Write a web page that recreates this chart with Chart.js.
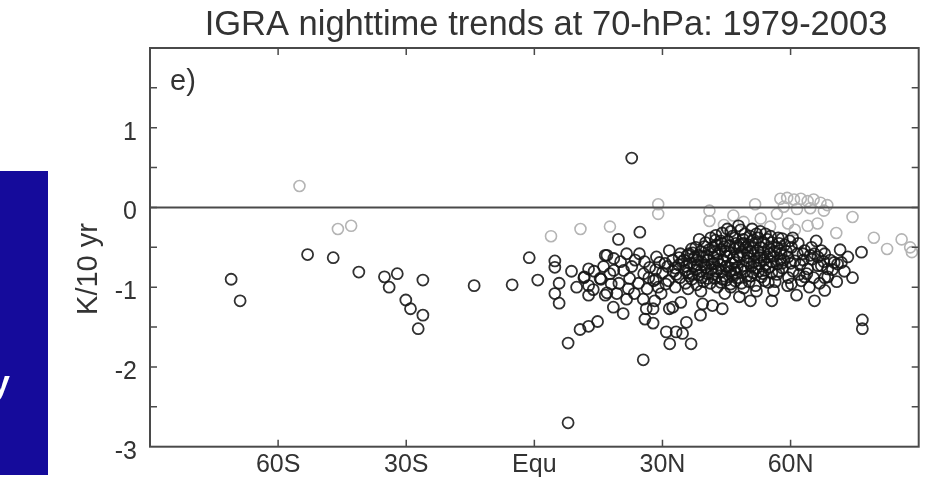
<!DOCTYPE html>
<html>
<head>
<meta charset="utf-8">
<script src="https://cdn.jsdelivr.net/npm/chart.js@4.4.1/dist/chart.umd.min.js"></script>
<style>
  html, body { margin: 0; padding: 0; background: #fff; }
  #wrap { position: relative; width: 926px; height: 479px; }
</style>
</head>
<body>
<div id="wrap"><canvas id="trendChart" width="926" height="479"></canvas></div>
<script>
const chartTitle = 'IGRA nighttime trends at 70-hPa: 1979-2003';
const yAxisTitle = 'K/10 yr';
const panelLabel = 'e)';
const latTicks = [-60, -30, 0, 30, 60];
const latTickLabels = ['60S', '30S', 'Equ', '30N', '60N'];
const trendLabels = [-3, -2, -1, 0, 1];

// [latitude (deg, S negative), trend K/10 yr]
const darkStations = [
  [-71.0,-0.90],[-68.9,-1.17],[-53.1,-0.59],[-47.1,-0.63],[-41.1,-0.81],[-35.1,-0.87],[-32.1,-0.83],
  [-34.0,-1.00],[-26.1,-0.91],[-30.1,-1.16],[-29.0,-1.27],[-26.1,-1.35],[-27.2,-1.52],[-14.1,-0.98],
  [-5.2,-0.97],[-1.2,-0.63],[0.8,-0.91],[4.8,-0.67],[4.8,-0.75],[5.8,-0.95],[4.8,-1.08],[5.8,-1.20],
  [7.9,-1.70],[7.9,-2.70],[10.7,-1.53],[12.7,-1.49],[14.8,-1.43],[11.7,-0.87],[12.7,-0.77],[12.7,-0.98],
  [12.7,-1.10],[15.6,-0.90],[17.0,-0.60],[17.0,-1.07],[19.7,-0.40],[24.7,-0.31],[21.6,-0.58],[16.6,-0.60],
  [22.8,0.62],
  [18.6,-0.64],[11.6,-0.88],[15.4,-0.89],[18.6,-0.79],[20.9,-0.79],[22.3,-0.89],[25.6,-0.83],[27.0,-0.75],
  [27.9,-0.92],[17.7,-0.83],
  [25.5,-1.91],[31.7,-1.71],[36.7,-1.71],[30.9,-1.56],[33.2,-1.56],[34.7,-1.58],[35.6,-1.44],[38.9,-1.35],
  [41.7,-1.23],[44.0,-1.27],[25.9,-1.40],[27.8,-1.45],[26.2,-1.27],[20.8,-1.33],[18.5,-1.25],[21.6,-1.15],
  [28.2,-1.17],[34.3,-1.19],[32.4,-1.25],[39.4,-1.21],[19.3,-1.08],[29.7,-1.08],[16.6,-1.10],[25.5,-1.15],
  [27.8,-1.27],[31.6,-1.27],
  [50.6,-1.17],[55.6,-1.17],[56.0,-1.04],[54.8,-0.94],[61.4,-1.10],[65.6,-1.17],[68.0,-1.04],[60.2,-0.96],
  [63.3,-0.87],[68.7,-0.87],[71.0,-0.71],[67.2,-0.73],[65.6,-0.58],[68.0,-0.58],[62.9,-0.58],[76.6,-0.56],
  [74.5,-0.88],[76.8,-1.41],[76.8,-1.52],[48.0,-1.12],[52.0,-1.05],[46.0,-1.00],[71.9,-0.69],
  [58.0,-0.39],[60.5,-0.38],[57.5,-0.54],[60.2,-0.50],[63.3,-0.54],[64.9,-0.50],[67.2,-0.54],[70.2,-0.69],
  [66.4,-0.73],[61.0,-0.67],[58.0,-0.70],[59.5,-0.88],[62.5,-0.92],[68.0,-0.88],[68.7,-0.77],[64.0,-0.77],
  [45.2,-0.27],[47.8,-0.23],[51.0,-0.27],[54.1,-0.33],[57.1,-0.38],[42.5,-0.35],[40.1,-0.44],[37.8,-0.50],
  [36.2,-0.58],[33.9,-0.63],[31.6,-0.54],[29.3,-0.69],
  [43.6,-0.42],[46.4,-0.36],[49.3,-0.33],[52.4,-0.38],[55.6,-0.44],[58.6,-0.47],
  [39.0,-0.55],[41.8,-0.50],[44.5,-0.49],[47.2,-0.45],[50.1,-0.47],[53.0,-0.50],[56.2,-0.55],
  [35.0,-0.66],[37.6,-0.62],[40.4,-0.60],[43.0,-0.58],[45.8,-0.57],[48.6,-0.56],[51.5,-0.60],[54.6,-0.62],
  [59.4,-0.62],
  [31.2,-0.74],[33.8,-0.72],[36.4,-0.70],[39.1,-0.68],[41.6,-0.71],[44.2,-0.66],[47.0,-0.69],[49.8,-0.67],
  [52.6,-0.71],[55.5,-0.68],[58.1,-0.76],
  [30.0,-0.82],[32.6,-0.80],[35.3,-0.79],[37.9,-0.78],[40.5,-0.83],[43.1,-0.77],[45.9,-0.80],[48.4,-0.78],
  [51.2,-0.82],[54.0,-0.79],[56.8,-0.84],
  [31.4,-0.92],[34.1,-0.88],[36.9,-0.90],[39.6,-0.93],[42.3,-0.89],[45.0,-0.91],[47.7,-0.88],[50.3,-0.93],
  [53.2,-0.87],
  [33.0,-1.00],[36.0,-1.02],[39.0,-1.05],[42.8,-1.00],[44.6,-1.08],[49.0,-1.01],
  [44.0,-0.32],[48.9,-0.40],[51.8,-0.44],[42.0,-0.62],[46.8,-0.52],[50.6,-0.55],[38.2,-0.72],[44.9,-0.74],
  [48.0,-0.62],[53.8,-0.66],[40.8,-0.66],[46.3,-0.85],[42.6,-0.80],[38.5,-0.85],[50.8,-0.74],[55.0,-0.75],
  [57.8,-0.58],[53.6,-0.56],[43.7,-0.53],[49.5,-0.50],[35.8,-0.60],[37.0,-0.83],[41.2,-0.95],[46.0,-0.96],
  [51.8,-0.98],[56.4,-0.93],[60.6,-0.80],[62.2,-0.72],[65.0,-0.65],[63.8,-0.83],[66.8,-0.95],[70.8,-0.93],
  [72.6,-0.80],[69.3,-0.66],[71.6,-0.53],[66.0,-0.42],[61.8,-0.45],
  [23.6,-0.66],[25.8,-0.68],[24.4,-0.95],[26.4,-1.02],[19.8,-0.95],[22.0,-1.02],[28.6,-0.62],[29.0,-1.00],
  [14.0,-0.80],[16.2,-0.74],[13.8,-1.03],[9.9,-1.00],[8.7,-0.80],
  [38.6,-0.40],[41.3,-0.38],[43.9,-0.45],[46.0,-0.30],[48.3,-0.28],[50.5,-0.36],[52.9,-0.30],[55.3,-0.36],
  [57.3,-0.45],[59.8,-0.42],
  [36.8,-0.52],[39.8,-0.49],[42.6,-0.47],[45.3,-0.42],[47.9,-0.50],[50.9,-0.42],[53.7,-0.44],[56.8,-0.50],
  [59.0,-0.55],
  [34.2,-0.58],[37.1,-0.57],[39.6,-0.62],[42.9,-0.66],[45.0,-0.61],[47.6,-0.60],[50.0,-0.63],[52.3,-0.54],
  [55.1,-0.58],[57.6,-0.65],
  [32.4,-0.66],[35.6,-0.74],[38.0,-0.66],[40.2,-0.75],[43.5,-0.72],[46.2,-0.70],[48.9,-0.73],[51.4,-0.68],
  [54.2,-0.72],[56.9,-0.71],
  [33.2,-0.84],[36.2,-0.86],[39.0,-0.80],[41.9,-0.84],[44.4,-0.86],[47.2,-0.82],[49.8,-0.86],[52.5,-0.80],
  [55.6,-0.82],
  [30.6,-0.70],[28.4,-0.78],[30.8,-0.96],[35.4,-0.95],[38.0,-0.97],[43.7,-0.94],[48.5,-0.95],[53.9,-0.92],
  [60.0,-0.70],[61.6,-0.58],[63.0,-0.66],[64.6,-0.60],[66.4,-0.62],[62.0,-0.84],[65.4,-0.88],[67.8,-0.68],
  [69.8,-0.78],[73.4,-0.62],[59.3,-0.98],[64.4,-1.00],
  [20.2,-0.68],[22.8,-0.74],[24.6,-0.58],[26.8,-0.88],[23.4,-1.08],[18.0,-0.96],[28.4,-0.90],
  [40.9,-0.53],[42.2,-0.56],[44.8,-0.55],[46.6,-0.63],[48.2,-0.47],[49.9,-0.57],[51.1,-0.51],[52.8,-0.63],
  [54.9,-0.51],[56.0,-0.61],[38.4,-0.60],[39.9,-0.72],[41.4,-0.78],[43.9,-0.81],[45.5,-0.75],[47.5,-0.75],
  [49.3,-0.80],[50.7,-0.86],[52.1,-0.76],[53.5,-0.83],[37.4,-0.74],[36.0,-0.82],[34.6,-0.68],[33.0,-0.76],
  [42.4,-0.41],[45.7,-0.48],[49.0,-0.45],[52.0,-0.33],[54.6,-0.40],[47.0,-0.38],[40.6,-0.89],[44.0,-0.90],
  [47.0,-0.92],[39.2,-0.88],[42.0,-0.70],[46.9,-0.78],[50.4,-0.70],[53.0,-0.60],[58.4,-0.66],[57.2,-0.80]
];

const lightStations = [
  [-55.0,0.27],[-46.0,-0.27],[-42.9,-0.23],[3.9,-0.36],[10.8,-0.27],[17.7,-0.24],[29.0,0.04],[29.0,-0.08],
  [41.0,-0.04],[41.0,-0.17],[51.7,0.04],[57.6,0.11],[59.2,0.12],[60.8,0.10],[62.4,0.11],[64.0,0.08],
  [65.4,0.10],[67.0,0.06],[68.6,0.03],[58.4,0.01],[61.5,-0.02],[64.6,-0.01],[67.8,-0.04],[74.5,-0.12],
  [79.5,-0.38],[82.6,-0.52],[66.3,-0.20],[70.7,-0.32],[59.4,-0.20],[64.0,-0.23],[53.0,-0.14],[55.2,-0.24],
  [49.0,-0.18],[56.8,-0.08],[61.0,-0.28],[46.6,-0.10],[44.4,-0.22],[86.0,-0.40],[88.0,-0.50],[88.4,-0.56]
];

const toPoints = list => list.map(p => ({ x: p[0], y: p[1] }));
const fontFace = '"Liberation Sans", Arial, Helvetica, sans-serif';
const inkColor = '#333';

const framePlugin = {
  id: 'frame',
  beforeDraw(chart) {
    const ctx = chart.ctx;
    ctx.save();
    ctx.fillStyle = '#fff';
    ctx.fillRect(0, 0, chart.width, chart.height);
    // bit of the slide behind the figure
    ctx.fillStyle = '#150b9b';
    ctx.fillRect(0, 171, 48, 304);
    ctx.fillStyle = '#fff';
    ctx.font = 'bold 34px ' + fontFace;
    ctx.textAlign = 'right';
    ctx.textBaseline = 'alphabetic';
    ctx.fillText('y', 10, 394);
    ctx.restore();
  },
  afterDatasetsDraw(chart) {
    const { ctx, chartArea: a, scales } = chart;
    const x = scales.x, y = scales.y;
    ctx.save();
    ctx.strokeStyle = '#4a4a4a';
    ctx.lineWidth = 2;
    ctx.strokeRect(a.left, a.top, a.right - a.left, a.bottom - a.top);

    const y0 = y.getPixelForValue(0);
    ctx.beginPath();
    ctx.moveTo(a.left, y0);
    ctx.lineTo(a.right, y0);
    ctx.stroke();

    ctx.lineWidth = 1.5;
    ctx.beginPath();
    latTicks.forEach(v => {
      const px = x.getPixelForValue(v);
      ctx.moveTo(px, a.bottom); ctx.lineTo(px, a.bottom - 7);
      ctx.moveTo(px, a.top); ctx.lineTo(px, a.top + 7);
    });
    y.ticks.forEach(t => {
      if (t.value <= y.min || t.value >= y.max) return;
      const py = y.getPixelForValue(t.value);
      ctx.moveTo(a.left, py); ctx.lineTo(a.left + 7, py);
      ctx.moveTo(a.right, py); ctx.lineTo(a.right - 7, py);
    });
    ctx.stroke();

    ctx.fillStyle = inkColor;
    ctx.textBaseline = 'alphabetic';
    ctx.font = '34.5px ' + fontFace;
    ctx.textAlign = 'center';
    ctx.fillText(chartTitle, 546, 35);

    ctx.font = '29px ' + fontFace;
    ctx.textAlign = 'left';
    ctx.fillText(panelLabel, a.left + 20, 90);

    ctx.save();
    ctx.translate(97, 269);
    ctx.rotate(-Math.PI / 2);
    ctx.textAlign = 'center';
    ctx.fillText(yAxisTitle, 0, 0);
    ctx.restore();
    ctx.restore();
  }
};

new Chart(document.getElementById('trendChart'), {
  type: 'scatter',
  data: {
    datasets: [
      {
        label: 'trend',
        data: toPoints(darkStations),
        pointStyle: 'circle',
        pointRadius: 5.5,
        borderWidth: 1.8,
        borderColor: 'rgba(20,20,20,0.88)',
        backgroundColor: 'rgba(0,0,0,0)'
      },
      {
        label: 'short record',
        data: toPoints(lightStations),
        pointStyle: 'circle',
        pointRadius: 5.5,
        borderWidth: 1.6,
        borderColor: '#b4b4b4',
        backgroundColor: 'rgba(0,0,0,0)'
      }
    ]
  },
  options: {
    responsive: false,
    devicePixelRatio: 1,
    animation: false,
    events: [],
    layout: { padding: { top: 48, right: 3, left: 0, bottom: 0 } },
    plugins: { legend: { display: false }, tooltip: { enabled: false }, title: { display: false } },
    scales: {
      x: {
        type: 'linear',
        min: -90,
        max: 90,
        grid: { display: false, drawTicks: false },
        border: { display: false },
        ticks: {
          stepSize: 30,
          autoSkip: false,
          maxRotation: 0,
          padding: 3,
          color: inkColor,
          font: { family: fontFace, size: 25 },
          callback: v => {
            const i = latTicks.indexOf(v);
            return i >= 0 ? latTickLabels[i] : '';
          }
        },
        afterFit: s => { s.height = 32.3; }
      },
      y: {
        type: 'linear',
        min: -3,
        max: 2,
        grid: { display: false, drawTicks: false },
        border: { display: false },
        ticks: {
          stepSize: 0.5,
          autoSkip: false,
          padding: 13,
          labelOffset: 5,
          color: inkColor,
          font: { family: fontFace, size: 25 },
          callback: v => trendLabels.includes(v) ? String(v) : ''
        },
        afterFit: s => { s.width = 150; }
      }
    }
  },
  plugins: [framePlugin]
});
</script>
</body>
</html>
